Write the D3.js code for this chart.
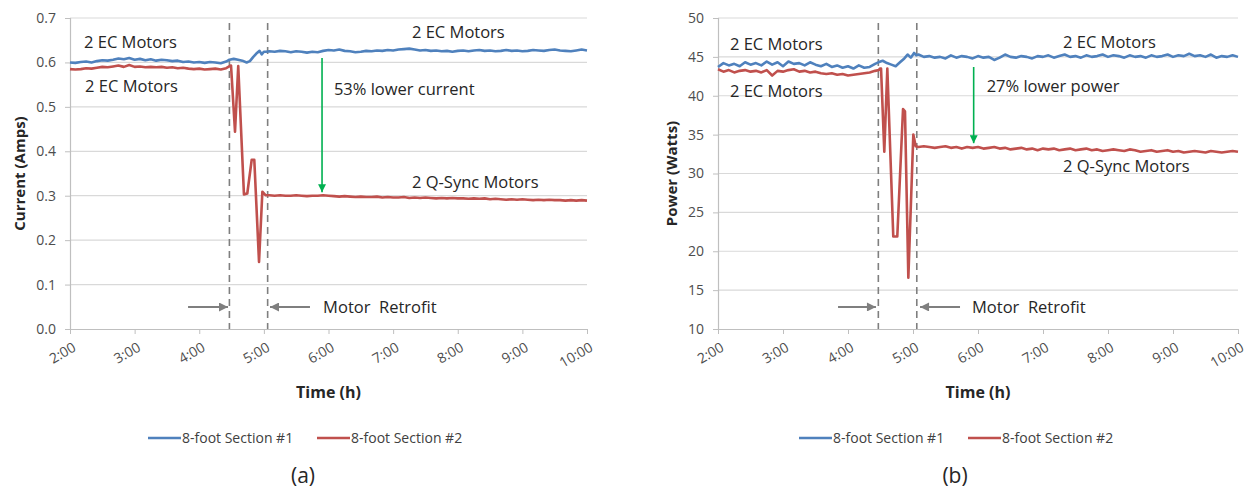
<!DOCTYPE html>
<html>
<head>
<meta charset="utf-8">
<script src="https://cdn.jsdelivr.net/npm/d3@7"></script>
<style>
  html, body { margin: 0; padding: 0; background: #fff; }
  svg { display: block; font-family: "Open Sans", "DejaVu Sans", sans-serif; }
</style>
</head>
<body>
<svg id="chart" width="1247" height="492"></svg>
<script>
// ---------- DATA (times in minutes since midnight) ----------
const preTimes = d3.range(120, 270, 5);   // 2:00 ... 4:25
const postTimes = d3.range(305, 601, 5);  // 5:05 ... 10:00
const xTicks = [120, 180, 240, 300, 360, 420, 480, 540, 600];
const retrofitTimes = [268, 303.5];

// (a) Current (Amps)
const curS1Pre = [0.600,0.599,0.601,0.602,0.600,0.603,0.605,0.604,0.606,0.609,0.607,0.610,0.606,0.608,0.605,0.607,0.604,0.606,0.605,0.603,0.604,0.601,0.602,0.600,0.601,0.599,0.601,0.600,0.598,0.602];
const curS1TransT = [268, 272, 276, 280, 284, 287, 290, 293, 296, 298, 300, 302];
const curS1TransV = [0.606,0.608,0.606,0.604,0.600,0.603,0.612,0.620,0.626,0.618,0.624,0.624];
const curS1Post = [0.625,0.624,0.626,0.625,0.623,0.625,0.624,0.622,0.624,0.623,0.626,0.628,0.627,0.629,0.626,0.625,0.623,0.624,0.626,0.625,0.627,0.626,0.628,0.627,0.629,0.630,0.631,0.629,0.627,0.628,0.626,0.627,0.625,0.626,0.624,0.626,0.627,0.625,0.627,0.628,0.626,0.627,0.625,0.626,0.628,0.626,0.627,0.625,0.626,0.628,0.627,0.626,0.628,0.629,0.627,0.626,0.625,0.627,0.629,0.627];

const curS2Pre = [0.585,0.584,0.585,0.587,0.586,0.588,0.590,0.589,0.591,0.593,0.590,0.594,0.590,0.591,0.589,0.590,0.589,0.590,0.588,0.589,0.587,0.588,0.586,0.585,0.586,0.584,0.585,0.586,0.584,0.587];
const curS2TransT = [268.6, 269.5, 273.2, 276.2, 281.5, 284.6, 288.7, 291.1, 295.5, 298.6, 301.7];
const curS2TransV = [0.592,0.593,0.444,0.592,0.303,0.305,0.381,0.381,0.151,0.309,0.301];
const curS2Post = [0.301,0.300,0.301,0.300,0.300,0.301,0.300,0.299,0.300,0.300,0.301,0.300,0.299,0.298,0.299,0.298,0.297,0.298,0.297,0.297,0.298,0.296,0.297,0.296,0.296,0.297,0.295,0.296,0.295,0.296,0.295,0.294,0.295,0.294,0.295,0.294,0.294,0.293,0.294,0.293,0.294,0.292,0.293,0.292,0.291,0.292,0.291,0.292,0.291,0.290,0.291,0.290,0.291,0.290,0.290,0.289,0.290,0.289,0.290,0.289];
const curTicks = [0.0, 0.1, 0.2, 0.3, 0.4, 0.5, 0.6, 0.7];

// (b) Power (Watts)
const powS1Pre = [43.7,44.2,43.9,44.1,43.8,44.3,44.0,44.2,43.9,44.4,44.0,44.3,43.8,44.4,44.1,44.2,43.9,44.3,44.0,43.8,44.1,43.7,43.9,43.6,43.8,43.5,43.9,43.6,43.7,44.1];
const powS1TransT = [268, 272, 276, 280, 284, 288, 292, 295, 298, 301, 303];
const powS1TransV = [44.3,44.5,44.2,44.0,43.8,44.3,44.8,45.3,44.9,45.5,45.2];
const powS1Post = [45.3,45.0,45.1,44.9,45.0,44.8,45.2,44.9,45.1,45.0,44.8,45.1,44.9,45.0,44.6,44.9,45.3,45.0,44.9,45.1,45.0,44.8,45.1,45.0,45.2,44.9,45.1,45.3,45.0,45.1,44.9,45.2,45.0,45.1,45.3,45.0,45.2,45.1,44.9,45.2,45.0,45.1,44.9,45.2,45.0,45.1,45.3,45.0,45.2,45.1,45.4,45.1,45.2,45.0,45.3,44.9,45.1,45.0,45.2,45.0];

const powS2Pre = [43.4,43.1,43.3,43.0,43.2,43.3,43.1,43.2,43.0,43.3,42.6,43.2,43.1,43.3,43.4,43.1,43.2,43.0,43.1,42.9,42.8,42.9,42.7,42.8,42.6,42.7,42.8,42.9,43.0,43.2];
const powS2TransT = [268.5, 269.5, 270.5, 273.5, 276.3, 281.8, 285.5, 290.8, 292.6, 295.7, 300.3, 302.5];
const powS2TransV = [43.3,43.5,43.5,32.8,43.5,21.9,21.9,38.3,38.0,16.6,35.0,33.5];
const powS2Post = [33.4,33.5,33.4,33.3,33.4,33.5,33.3,33.4,33.2,33.4,33.3,33.4,33.2,33.3,33.4,33.2,33.3,33.1,33.2,33.3,33.1,33.2,33.0,33.2,33.1,33.2,33.0,33.1,33.2,33.0,33.1,33.2,33.0,33.1,32.9,33.0,33.1,33.0,32.9,33.1,33.0,32.8,32.9,33.0,32.8,32.9,33.0,32.8,32.9,32.7,32.8,32.9,32.8,32.7,32.9,32.8,32.7,32.8,32.9,32.8];
const powTicks = [10, 15, 20, 25, 30, 35, 40, 45, 50];

const seriesNames = ["8-foot Section #1", "8-foot Section #2"];
const seriesColors = ["#4F81BD", "#C0504D"];

function build(pre, tt, tv, post) {
  const t = preTimes.concat(tt, postTimes);
  const v = pre.concat(tv, post);
  return t.map((d, i) => ({ t: d, v: v[i] }));
}

const panels = [
  {
    left: 70, right: 587, top: 18, bottom: 329,
    yDomain: [0, 0.7], yTicks: curTicks, yFmt: d3.format(".1f"),
    yTitle: "Current (Amps)", yTitleX: 20, panelLabel: "(a)", panelX: 303,
    legendX: 148,
    series: [build(curS1Pre, curS1TransT, curS1TransV, curS1Post),
             build(curS2Pre, curS2TransT, curS2TransV, curS2Post)],
    texts: [
      { t: 133, v: 0.646, s: "2 EC Motors" },
      { t: 134, v: 0.547, s: "2 EC Motors" },
      { t: 437.5, v: 0.668, s: "2 EC Motors" },
      { t: 365, v: 0.540, s: "53% lower current" },
      { t: 437.5, v: 0.331, s: "2 Q-Sync Motors" },
      { t: 355, v: 0.050, s: "Motor  Retrofit" }
    ],
    green: { t: 354, v0: 0.610, v1: 0.308 },
    grayArrows: [{ t0: 229.6, t1: 266.7, v: 0.0495 }, { t0: 342.8, t1: 305.7, v: 0.0495 }],
    dashTop: 0.689
  },
  {
    left: 718, right: 1238, top: 18, bottom: 329,
    yDomain: [10, 50], yTicks: powTicks, yFmt: d3.format("d"),
    yTitle: "Power (Watts)", yTitleX: 672, panelLabel: "(b)", panelX: 955,
    legendX: 799,
    series: [build(powS1Pre, powS1TransT, powS1TransV, powS1Post),
             build(powS2Pre, powS2TransT, powS2TransV, powS2Post)],
    texts: [
      { t: 131, v: 46.65, s: "2 EC Motors" },
      { t: 131, v: 40.6, s: "2 EC Motors" },
      { t: 438.5, v: 46.9, s: "2 EC Motors" },
      { t: 368, v: 41.25, s: "27% lower power" },
      { t: 438.5, v: 30.96, s: "2 Q-Sync Motors" },
      { t: 354.5, v: 12.83, s: "Motor  Retrofit" }
    ],
    green: { t: 356, v0: 43.7, v1: 33.9 },
    grayArrows: [{ t0: 230.8, t1: 265.8, v: 12.83 }, { t0: 343.4, t1: 306.5, v: 12.83 }],
    dashTop: 49.35
  }
];

const svg = d3.select("#chart");
const defs = svg.append("defs");
function marker(id, color, w, h) {
  defs.append("marker").attr("id", id)
    .attr("viewBox", "0 0 10 10").attr("refX", 10).attr("refY", 5)
    .attr("markerWidth", w).attr("markerHeight", h).attr("markerUnits", "userSpaceOnUse")
    .attr("orient", "auto")
    .append("path").attr("d", "M0,0 L10,5 L0,10 Z").attr("fill", color);
}
marker("ahGray", "#7f7f7f", 11, 9);
marker("ahGreen", "#00B050", 9, 8);

const hm = m => `${Math.floor(m / 60)}:${String(m % 60).padStart(2, "0")}`;

panels.forEach(p => {
  const x = d3.scaleLinear().domain([120, 600]).range([p.left, p.right]);
  const y = d3.scaleLinear().domain(p.yDomain).range([p.bottom, p.top]);
  const g = svg.append("g");

  // gridlines
  g.append("g").selectAll("line").data(p.yTicks.slice(1)).join("line")
    .attr("x1", p.left).attr("x2", p.right)
    .attr("y1", d => y(d)).attr("y2", d => y(d))
    .attr("stroke", "#d9d9d9").attr("stroke-width", 1.2);

  // y axis
  const ya = g.append("g").attr("transform", `translate(${p.left},0)`)
    .call(d3.axisLeft(y).tickValues(p.yTicks).tickFormat(p.yFmt).tickSize(5).tickPadding(9));
  ya.select(".domain").attr("stroke", "#bfbfbf").attr("stroke-width", 1.2);
  ya.selectAll(".tick line").attr("stroke", "#bfbfbf");
  ya.selectAll("text").attr("fill", "#4d4d4d").style("font-size", "14px")
    .style("font-family", "'Open Sans', sans-serif");

  // x axis
  const xa = g.append("g").attr("transform", `translate(0,${p.bottom})`)
    .call(d3.axisBottom(x).tickValues(xTicks).tickFormat(hm).tickSize(5).tickSizeOuter(0));
  xa.select(".domain").attr("stroke", "#bfbfbf").attr("stroke-width", 1.2);
  xa.selectAll(".tick line").attr("stroke", "#bfbfbf");
  xa.selectAll("text").attr("fill", "#4d4d4d").style("font-size", "14px")
    .style("font-family", "'Open Sans', sans-serif")
    .attr("text-anchor", "end").attr("y", 0).attr("dy", "0.35em")
    .attr("transform", "translate(4,17) rotate(-30)");

  // axis titles
  g.append("text").attr("transform", `translate(${p.yTitleX},${(p.top + p.bottom) / 2}) rotate(-90)`)
    .attr("text-anchor", "middle").attr("dy", "0.35em")
    .style("font-size", "15px").style("font-weight", "bold").attr("fill", "#262626")
    .text(p.yTitle);
  g.append("text").attr("x", (p.left + p.right) / 2).attr("y", 392).attr("dy", "0.35em")
    .attr("text-anchor", "middle")
    .style("font-size", "16px").style("font-weight", "bold").attr("fill", "#262626")
    .text("Time (h)");

  // dashed retrofit lines
  g.append("g").selectAll("line").data(retrofitTimes).join("line")
    .attr("x1", d => x(d)).attr("x2", d => x(d))
    .attr("y1", y(p.dashTop)).attr("y2", p.bottom)
    .attr("stroke", "#7f7f7f").attr("stroke-width", 1.6).attr("stroke-dasharray", "7,5");

  // series lines
  const line = d3.line().x(d => x(d.t)).y(d => y(d.v));
  p.series.forEach((s, i) => {
    g.append("path").datum(s).attr("d", line)
      .attr("fill", "none").attr("stroke", seriesColors[i]).attr("stroke-width", 2.6)
      .attr("stroke-linejoin", "round");
  });

  // annotations
  g.append("g").selectAll("text").data(p.texts).join("text")
    .attr("x", d => x(d.t)).attr("y", d => y(d.v)).attr("dy", "0.35em")
    .style("font-size", "16.5px").style("white-space", "pre").attr("fill", "#262626")
    .text(d => d.s);

  // green arrow
  g.append("line")
    .attr("x1", x(p.green.t)).attr("x2", x(p.green.t))
    .attr("y1", y(p.green.v0)).attr("y2", y(p.green.v1))
    .attr("stroke", "#00B050").attr("stroke-width", 1.6).attr("marker-end", "url(#ahGreen)");

  // gray arrows
  g.append("g").selectAll("line").data(p.grayArrows).join("line")
    .attr("x1", d => x(d.t0)).attr("x2", d => x(d.t1))
    .attr("y1", d => y(d.v)).attr("y2", d => y(d.v))
    .attr("stroke", "#7f7f7f").attr("stroke-width", 2).attr("marker-end", "url(#ahGray)");

  // legend
  const lg = g.append("g").attr("transform", `translate(${p.legendX},438)`);
  seriesNames.forEach((n, i) => {
    const ox = i * 169;
    lg.append("line").attr("x1", ox).attr("x2", ox + 33).attr("y1", 0).attr("y2", 0)
      .attr("stroke", seriesColors[i]).attr("stroke-width", 2.6);
    lg.append("text").attr("x", ox + 34).attr("y", 0).attr("dy", "0.35em")
      .style("font-size", "14px").attr("fill", "#404040").text(n);
  });

  // panel label
  g.append("text").attr("x", p.panelX).attr("y", 476).attr("dy", "0.35em")
    .attr("text-anchor", "middle").style("font-size", "21px").attr("fill", "#262626")
    .text(p.panelLabel);
});
</script>
</body>
</html>
